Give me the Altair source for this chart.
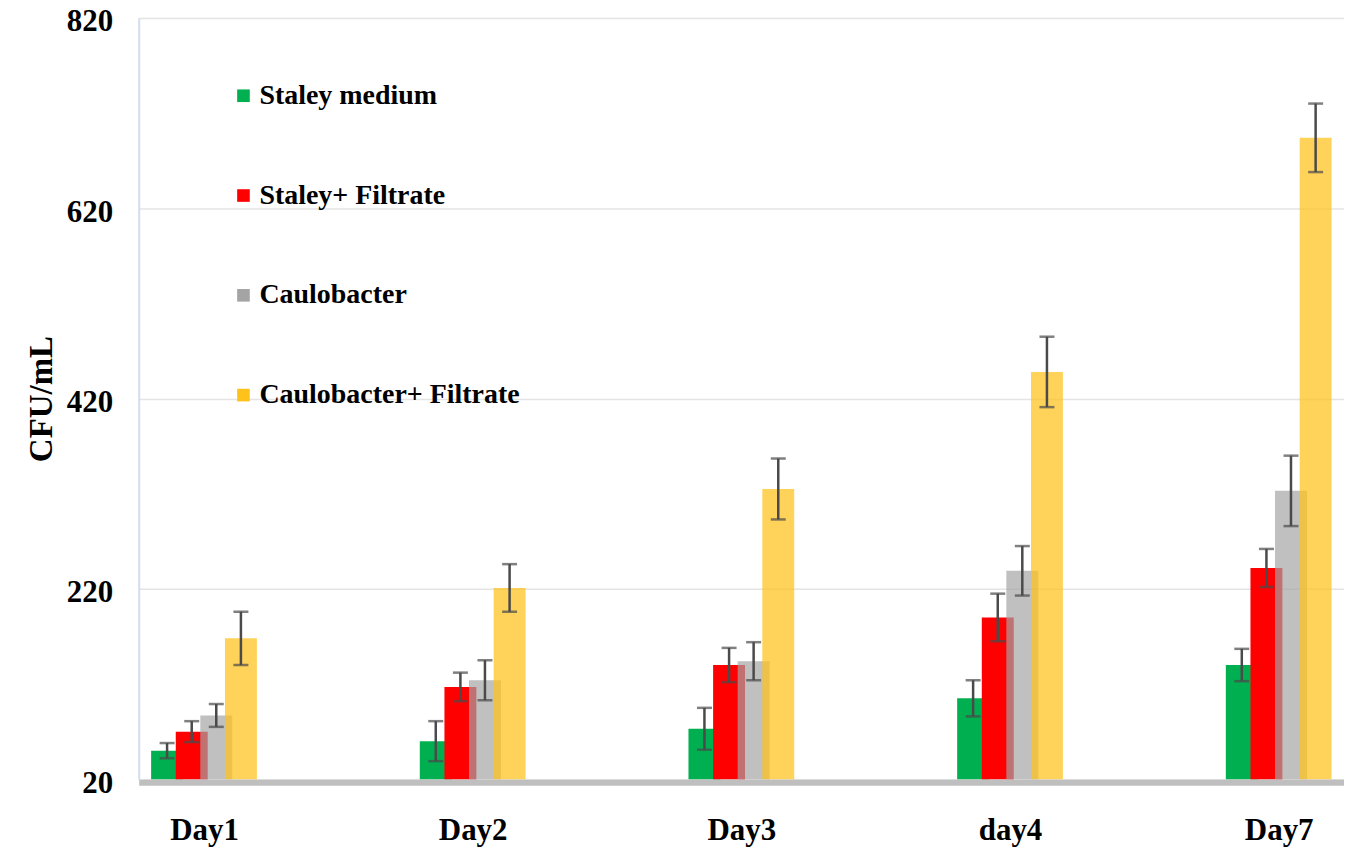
import altair as alt
import pandas as pd

days = ["Day1", "Day2", "Day3", "day4", "Day7"]
series = ["Staley medium", "Staley+ Filtrate", "Caulobacter", "Caulobacter+ Filtrate"]

staley = [50, 60, 73, 105, 140]
staley_err = [8, 21, 22, 19, 17]
staley_f = [70, 117, 140, 190, 242]
staley_f_err = [11, 15, 18, 25, 20]
caulo = [87, 124, 144, 239, 323]
caulo_err = [12, 21, 20, 26, 37]
caulo_f = [168, 221, 325, 448, 694]
caulo_f_err = [28, 25, 32, 37, 36]

colors = ["#00b050", "#ff0000", "#a4a4a4", "#ffc21a"]
opacities = [1.0, 1.0, 0.69, 0.72]
bar_shift = [-37, -12.3, 12.3, 37]   # pixel shift of each series inside its day group
BAR_W = 32

rows = []
for s, vals, errs in zip(series, [staley, staley_f, caulo, caulo_f],
                         [staley_err, staley_f_err, caulo_err, caulo_f_err]):
    for d, v, e in zip(days, vals, errs):
        rows.append({"day": d, "series": s, "value": v, "lo": v - e, "hi": v + e, "base": 20})
df = pd.DataFrame(rows)

FONT = "Liberation Serif"

x_enc = alt.X("day:N", sort=days, title=None,
              scale=alt.Scale(type="point", padding=0.243),
              axis=alt.Axis(labelAngle=0, labelFont=FONT, labelFontSize=31, labelFontWeight="bold",
                            labelColor="#000000", labelPadding=33, ticks=False, offset=3,
                            domainColor="#bfbfbf", domainWidth=6, grid=False))
y_enc = alt.Y("value:Q", title="CFU/mL",
              scale=alt.Scale(domain=[20, 820], zero=False, nice=False),
              axis=alt.Axis(values=[20, 220, 420, 620, 820], ticks=False,
                            labelFont=FONT, labelFontSize=31, labelFontWeight="bold",
                            labelColor="#000000", labelPadding=26, labelOffset=4,
                            titleFont=FONT, titleFontSize=33, titleFontWeight="bold",
                            titleColor="#000000", titlePadding=8,
                            domainColor="#d3dfee", domainWidth=2,
                            gridColor="#e4e4e4", gridWidth=1.5))
color_enc = alt.Color("series:N", sort=series,
                      scale=alt.Scale(domain=series, range=colors),
                      legend=alt.Legend(orient="none", legendX=91, legendY=64, title=None,
                                        symbolType="square", symbolSize=160,
                                        symbolOpacity=1, symbolStrokeWidth=0,
                                        labelFont=FONT, labelFontSize=28, labelFontWeight="bold",
                                        labelColor="#000000", labelOffset=2,
                                        rowPadding=72, labelLimit=400))

layers = []
for k, s in enumerate(series):
    base = alt.Chart(df).transform_filter(alt.datum.series == s)
    layers.append(
        base.mark_bar(width=BAR_W, xOffset=bar_shift[k], opacity=opacities[k]).encode(
            x=x_enc, y=y_enc, y2=alt.Y2("base:Q"), color=color_enc)
    )
for k, s in enumerate(series):
    base = alt.Chart(df).transform_filter(alt.datum.series == s)
    layers.append(
        base.mark_rule(color="#4a4a4a", strokeWidth=2.5, xOffset=bar_shift[k]).encode(
            x=alt.X("day:N", sort=days), y=alt.Y("lo:Q"), y2=alt.Y2("hi:Q"))
    )
    for fld in ["lo", "hi"]:
        layers.append(
            base.mark_tick(color="#4a4a4a", thickness=2.5, size=15, orient="horizontal",
                           xOffset=bar_shift[k]).encode(
                x=alt.X("day:N", sort=days), y=alt.Y(f"{fld}:Q"))
        )

chart = alt.layer(*layers).properties(
    width=1208, height=763,
    autosize=alt.AutoSizeParams(type="none"),
    padding={"left": 131, "top": 9, "right": 0, "bottom": 69},
).configure_view(stroke=None).configure(background="#ffffff")

chart.save("out.html", embed_options={"renderer": "svg", "actions": False})
